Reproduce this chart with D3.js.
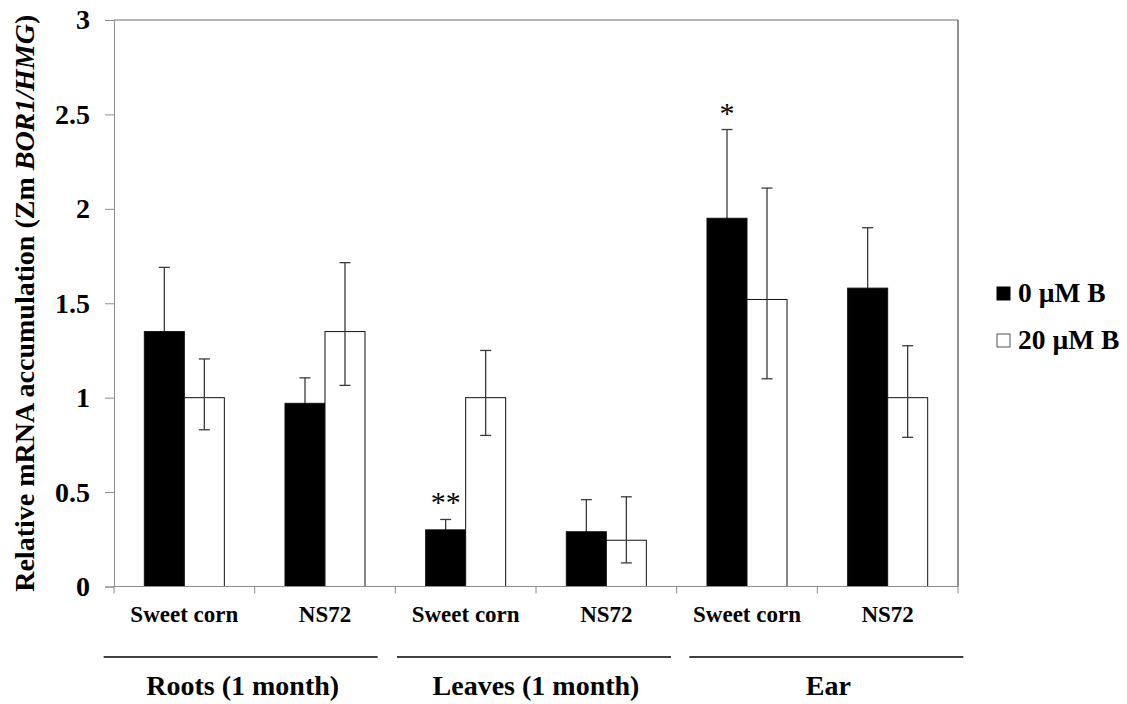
<!DOCTYPE html>
<html>
<head>
<meta charset="utf-8">
<script src="https://cdn.jsdelivr.net/npm/d3@7"></script>
<style>
  html, body { margin: 0; padding: 0; background: #fff; }
  svg { display: block; }
  text { font-family: "Liberation Serif", "Times New Roman", serif; }
</style>
</head>
<body>
<svg id="chart" width="1127" height="704"></svg>
<script>
// Relative ZmBOR1 expression, two boron treatments, three tissues
const categories = ["Sweet corn", "NS72", "Sweet corn", "NS72", "Sweet corn", "NS72"];
const groups = ["Roots (1 month)", "Leaves (1 month)", "Ear"];
const groupMembers = [[0, 1], [2, 3], [4, 5]];
const seriesNames = ["0 \u00b5M B", "20 \u00b5M B"];

const boron0 = [1.35, 0.97, 0.30, 0.29, 1.95, 1.58];
const boron0ErrUp = [0.34, 0.135, 0.055, 0.17, 0.47, 0.32];
const boron0ErrDown = [0.34, 0.135, 0.055, 0.17, 0.47, 0.32];

const boron20 = [1.00, 1.35, 1.00, 0.245, 1.52, 1.00];
const boron20ErrUp = [0.205, 0.365, 0.25, 0.23, 0.59, 0.275];
const boron20ErrDown = [0.17, 0.285, 0.20, 0.12, 0.42, 0.21];

const signif0 = ["", "", "**", "", "*", ""];

const yTicks = [0, 0.5, 1, 1.5, 2, 2.5, 3];

// Layout
const svg = d3.select("#chart");
const plot = { left: 114, top: 20, right: 958, bottom: 586.5 };

const x = d3.scaleBand()
  .domain(d3.range(categories.length))
  .range([plot.left, plot.right])
  .paddingInner(0).paddingOuter(0);

const xInner = d3.scaleBand()
  .domain([0, 1])
  .range([0, x.bandwidth()])
  .paddingInner(0)
  .paddingOuter(0.758);

const y = d3.scaleLinear().domain([0, 3]).range([plot.bottom, plot.top]);

const axisGrey = "#8c8c8c";

// Frame: top and right edges of the plot area
svg.append("line")
  .attr("x1", plot.left).attr("x2", plot.right)
  .attr("y1", y(3)).attr("y2", y(3))
  .attr("stroke", "#6e6e6e").attr("stroke-width", 1);
svg.append("line")
  .attr("x1", plot.right).attr("x2", plot.right)
  .attr("y1", y(3)).attr("y2", y(0))
  .attr("stroke", "#222").attr("stroke-width", 1);

// Y axis
const yAxis = svg.append("g")
  .attr("transform", `translate(${plot.left},0)`)
  .call(d3.axisLeft(y).tickValues(yTicks).tickFormat(d3.format("")).tickSize(9).tickPadding(15));
yAxis.select(".domain").attr("stroke", axisGrey);
yAxis.selectAll(".tick line").attr("stroke", axisGrey);
yAxis.selectAll(".tick text")
  .attr("fill", "#000")
  .style("font-family", "'Liberation Serif', serif")
  .style("font-size", "28px")
  .style("font-weight", "bold");

// Y title
const yTitle = svg.append("text")
  .attr("transform", `translate(34,${(plot.top + plot.bottom) / 2}) rotate(-90)`)
  .attr("text-anchor", "middle")
  .style("font-size", "28px")
  .style("font-weight", "bold");
yTitle.append("tspan").text("Relative mRNA accumulation (Zm ");
yTitle.append("tspan").style("font-style", "italic").text("BOR1/HMG");
yTitle.append("tspan").text(")");

// Bars
const series = [
  { name: seriesNames[0], vals: boron0, up: boron0ErrUp, down: boron0ErrDown, fill: "#000" },
  { name: seriesNames[1], vals: boron20, up: boron20ErrUp, down: boron20ErrDown, fill: "#fff" }
];

const barData = [];
series.forEach((s, si) => {
  s.vals.forEach((v, ci) => {
    barData.push({ si, ci, v, up: s.up[ci], down: s.down[ci], fill: s.fill });
  });
});

const capHalf = 5.5;
function drawErrors(g, rows) {
  rows.forEach(d => {
    const cx = x(d.ci) + xInner(d.si) + xInner.bandwidth() / 2;
    const yTop = y(d.v + d.up), yBot = y(d.v - d.down);
    g.append("line").attr("x1", cx).attr("x2", cx).attr("y1", yTop).attr("y2", yBot);
    g.append("line").attr("x1", cx - capHalf).attr("x2", cx + capHalf).attr("y1", yTop).attr("y2", yTop);
    g.append("line").attr("x1", cx - capHalf).attr("x2", cx + capHalf).attr("y1", yBot).attr("y2", yBot);
  });
}

// Solid-bar whiskers sit behind their bars, so only the upper arm shows
drawErrors(svg.append("g").attr("stroke", "#3a3a3a").attr("stroke-width", 1.3),
  barData.filter(d => d.si === 0));

svg.append("g").selectAll("rect")
  .data(barData)
  .join("rect")
  .attr("x", d => x(d.ci) + xInner(d.si))
  .attr("width", xInner.bandwidth())
  .attr("y", d => y(d.v))
  .attr("height", d => y(0) - y(d.v))
  .attr("fill", d => d.fill)
  .attr("stroke", "#111")
  .attr("stroke-width", 1);

drawErrors(svg.append("g").attr("stroke", "#3a3a3a").attr("stroke-width", 1.3),
  barData.filter(d => d.si === 1));

// Significance marks above the 0 µM B bars
svg.append("g").selectAll("text")
  .data(signif0.map((s, ci) => ({ s, ci })).filter(d => d.s))
  .join("text")
  .attr("x", d => x(d.ci) + xInner(0) + xInner.bandwidth() / 2)
  .attr("y", d => y(boron0[d.ci] + boron0ErrUp[d.ci]) - 7)
  .attr("text-anchor", "middle")
  .style("font-size", "30px")
  .text(d => d.s);

// X axis baseline and category boundary ticks
svg.append("line")
  .attr("x1", plot.left).attr("x2", plot.right)
  .attr("y1", y(0)).attr("y2", y(0))
  .attr("stroke", axisGrey).attr("stroke-width", 1);
svg.append("g").selectAll("line")
  .data(d3.range(categories.length + 1))
  .join("line")
  .attr("x1", i => i < categories.length ? x(i) : x(categories.length - 1) + x.bandwidth())
  .attr("x2", i => i < categories.length ? x(i) : x(categories.length - 1) + x.bandwidth())
  .attr("y1", y(0)).attr("y2", y(0) + 7)
  .attr("stroke", axisGrey);

// Category labels
svg.append("g").selectAll("text")
  .data(categories)
  .join("text")
  .attr("x", (d, i) => x(i) + x.bandwidth() / 2)
  .attr("y", 622)
  .attr("text-anchor", "middle")
  .style("font-size", "23px")
  .style("font-weight", "bold")
  .text(d => d);

// Tissue groups: rule plus label
const groupShift = [-14, -2, 9];
const halfRule = 137;
groups.forEach((g, gi) => {
  const m = groupMembers[gi];
  const cx = (x(m[0]) + x(m[m.length - 1]) + x.bandwidth()) / 2 + groupShift[gi];
  svg.append("line")
    .attr("x1", cx - halfRule).attr("x2", cx + halfRule)
    .attr("y1", 657).attr("y2", 657)
    .attr("stroke", "#000").attr("stroke-width", 1.6);
  svg.append("text")
    .attr("x", cx + 2).attr("y", 695)
    .attr("text-anchor", "middle")
    .style("font-size", "28px")
    .style("font-weight", "bold")
    .text(g);
});

// Legend
const legend = svg.append("g").attr("transform", "translate(997,287)");
series.forEach((s, i) => {
  const row = legend.append("g").attr("transform", `translate(0,${i * 47})`);
  row.append("rect")
    .attr("width", 13).attr("height", 13)
    .attr("fill", s.fill)
    .attr("stroke", i === 0 ? "#000" : "#555").attr("stroke-width", 1);
  row.append("text")
    .attr("x", 21).attr("y", 15)
    .style("font-size", "27.5px")
    .style("font-weight", "bold")
    .text(s.name);
});
</script>
</body>
</html>
